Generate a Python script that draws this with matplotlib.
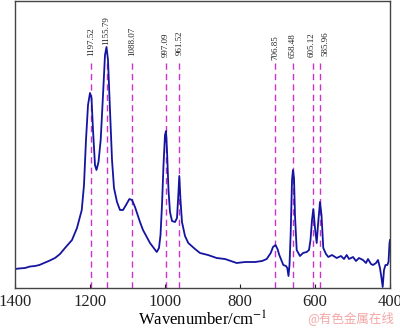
import matplotlib
matplotlib.use("Agg")
import matplotlib.pyplot as plt

plt.rcParams['font.family'] = ['Liberation Serif', 'DejaVu Serif']
plt.rcParams['mathtext.fontset'] = 'stix'

# FTIR spectrum, wavenumber (cm-1) vs intensity (a.u.)
wavenumber = [1400, 1390, 1373.3, 1360, 1346.7, 1335, 1324.5, 1310, 1293.3, 1280, 1266.7, 1248,
              1234.7, 1222, 1216, 1210.7, 1205.3, 1200, 1196, 1192, 1186.7, 1182.7, 1177.3,
              1171.5, 1165.3, 1160, 1156, 1152, 1146.7, 1141.3, 1136, 1128, 1120, 1112, 1104,
              1095, 1088, 1080, 1066.7, 1058.7, 1040, 1022, 1016, 1012, 1008, 1004, 1000,
              997.3, 994.7, 990.7, 986.7, 981.3, 973.3, 968, 964.5, 961.9, 958.7, 954.7,
              946.7, 937.9, 920, 906.7, 885.3, 862.2, 840, 808.8, 786.7, 760, 741.3, 728.8,
              718.1, 712, 705.3, 700, 695.2, 684.5, 677.3, 673.9, 670.7, 668, 664.8, 661.3,
              658.7, 656, 653.3, 648.8, 640, 632, 622.2, 616, 612, 608, 604.5, 600, 595.5,
              592, 586.7, 582.7, 577.9, 570.7, 564.5, 554.7, 542.2, 530.7, 522.7, 515.5,
              509.3, 498.7, 490.7, 482.7, 472, 464, 458.7, 450.7, 445.3, 437.3, 432, 426.7,
              422.7, 419.5, 416, 412, 407.2, 404, 401.3, 400]
intensity = [19, 19.5, 20, 21.5, 22, 23, 24.7, 27, 30, 34, 40, 48,
             60, 78, 103, 148, 183, 195, 190, 158, 123, 118, 126,
             148, 193, 233, 241, 228, 178, 128, 100, 86, 78, 78, 83,
             89, 88, 81, 66, 58, 45, 36, 40, 53, 83, 123, 153,
             157, 138, 98, 76, 67, 66, 70, 93, 112, 88, 66,
             52, 45, 39, 35, 33, 30, 29, 25, 26, 26, 27, 29,
             35, 41, 43, 39, 33, 23, 22, 20, 12, 23, 55, 108,
             118, 110, 72, 38, 32, 35, 36, 38, 48, 68, 79, 60, 45,
             63, 86, 73, 40, 34, 31, 33, 30, 32, 29, 33,
             29, 31, 27, 30, 28, 25, 29, 24, 23, 25, 28, 20,
             10, 1, 18, 23, 23, 26, 45, 48]

peak_pos = [1197.52, 1155.79, 1088.07, 997.09, 961.52, 706.85, 658.48, 605.12, 585.96]
peak_text = ['1197.52', '1155.79', '1088.07', '997.09', '961.52', '706.85', '658.48', '605.12', '585.96']
# label positions (x shifted where neighbouring labels would collide)
label_x = [1197.52, 1155.79, 1088.07, 997.09, 961.52, 706.85, 658.48, 609.0, 571.0]
label_y = [232, 243, 232, 231, 233, 228, 230, 231, 232]

fig = plt.figure(figsize=(4, 3.29), dpi=100)
ax = fig.add_axes([0.0375, 0.1246, 0.9375, 0.8724])

for p, t, lx, ly in zip(peak_pos, peak_text, label_x, label_y):
    ax.plot([p, p], [0, 225], color='#cc33cc', lw=1.0, ls=(0, (4.5, 3)), zorder=1)
    ax.text(lx, ly, t, rotation=90, ha='center', va='bottom', fontsize=6.5, color='#222222')

ax.plot(wavenumber, intensity, color='#1414a0', lw=1.3, zorder=2)

ax.set_xlim(1400, 400)
ax.set_ylim(0, 287)
ax.set_xticks([1400, 1200, 1000, 800, 600, 400])
ax.set_yticks([])
ax.tick_params(axis='x', direction='in', length=3, labelsize=12, pad=4, colors='#222222')
for s in ax.spines.values():
    s.set_color('#444444')
    s.set_linewidth(1.0)
ax.set_xlabel(r'Wavenumber/cm$^{-1}$', fontsize=12, labelpad=1)

fig.text(0.985, 0.012, '@有色金属在线', ha='right', va='bottom', fontsize=9,
         color='#f4a6a6', family=['Noto Sans CJK SC', 'DejaVu Sans'])

fig.savefig('out.png', dpi=100)
